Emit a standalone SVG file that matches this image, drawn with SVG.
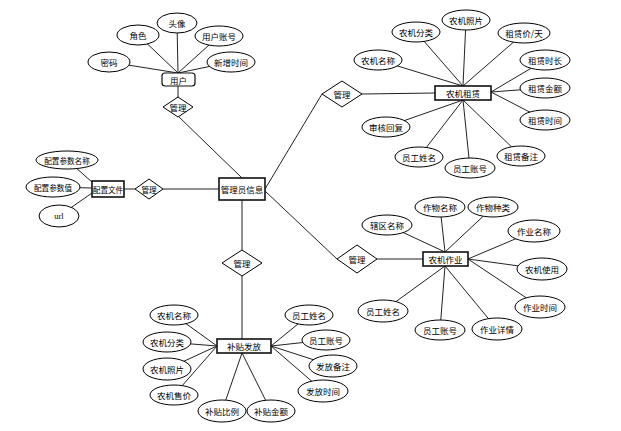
<svg xmlns="http://www.w3.org/2000/svg" width="621" height="431" viewBox="0 0 621 431">
<style>
text{font-family:"Noto Sans CJK SC","Liberation Sans",sans-serif;font-size:8.5px;fill:#000;text-anchor:middle;dominant-baseline:central}
.s{font-size:7.6px}
.a{fill:#fff;stroke:#000;stroke-width:1}
.b{fill:#fff;stroke:#111;stroke-width:1.6}
.d{fill:#fff;stroke:#000;stroke-width:1}
#connectors line{stroke:#222;stroke-width:1}
</style>
<rect width="621" height="431" fill="#fff"/>
<g id="connectors">
<line x1="109" y1="62" x2="178" y2="73"/>
<line x1="138" y1="35" x2="178" y2="73"/>
<line x1="177" y1="23" x2="178" y2="73"/>
<line x1="219" y1="36" x2="178" y2="73"/>
<line x1="231" y1="62" x2="178" y2="73"/>
<line x1="178" y1="86" x2="178" y2="97"/>
<line x1="178" y1="116" x2="242" y2="178"/>
<line x1="67" y1="160" x2="92" y2="182"/>
<line x1="53" y1="187" x2="92" y2="188"/>
<line x1="59" y1="216" x2="92" y2="193"/>
<line x1="124" y1="189" x2="135" y2="189"/>
<line x1="163" y1="189" x2="219" y2="189"/>
<line x1="265" y1="189" x2="322" y2="94"/>
<line x1="362" y1="94" x2="435" y2="93"/>
<line x1="416" y1="32" x2="463" y2="86"/>
<line x1="466" y1="20" x2="463" y2="86"/>
<line x1="524" y1="33" x2="463" y2="86"/>
<line x1="378" y1="60" x2="463" y2="86"/>
<line x1="545" y1="60" x2="491" y2="92"/>
<line x1="545" y1="88" x2="491" y2="92"/>
<line x1="545" y1="120" x2="491" y2="92"/>
<line x1="386" y1="127" x2="463" y2="100"/>
<line x1="419" y1="157" x2="463" y2="100"/>
<line x1="470" y1="168" x2="463" y2="100"/>
<line x1="521" y1="156" x2="463" y2="100"/>
<line x1="265" y1="191" x2="337" y2="259"/>
<line x1="377" y1="259" x2="423" y2="259"/>
<line x1="387" y1="225" x2="445" y2="252"/>
<line x1="440" y1="207" x2="445" y2="252"/>
<line x1="493" y1="207" x2="445" y2="252"/>
<line x1="534" y1="231" x2="468" y2="259"/>
<line x1="541" y1="269" x2="468" y2="259"/>
<line x1="540" y1="307" x2="468" y2="259"/>
<line x1="383" y1="311" x2="445" y2="266"/>
<line x1="440" y1="330" x2="445" y2="266"/>
<line x1="497" y1="329" x2="445" y2="266"/>
<line x1="242" y1="200" x2="242" y2="250"/>
<line x1="242" y1="276" x2="242" y2="339"/>
<line x1="174" y1="315" x2="217" y2="346"/>
<line x1="167" y1="342" x2="217" y2="346"/>
<line x1="167" y1="369" x2="217" y2="346"/>
<line x1="174" y1="395" x2="217" y2="346"/>
<line x1="222" y1="411" x2="242" y2="353"/>
<line x1="271" y1="411" x2="242" y2="353"/>
<line x1="309" y1="315" x2="271" y2="346"/>
<line x1="326" y1="340" x2="271" y2="346"/>
<line x1="333" y1="366" x2="271" y2="346"/>
<line x1="323" y1="391" x2="271" y2="346"/>
</g>

<g id="admin"><rect class="b" x="219" y="178" width="46" height="22"/><text x="242" y="189">管理员信息</text></g>

<g id="user"><rect class="b" x="162" y="73" width="33" height="13" rx="3" style="stroke-width:1.2"/><text x="178.5" y="79.5">用户</text></g>
<g id="user-pwd"><ellipse class="a" cx="109" cy="62" rx="21" ry="10"/><text x="109" y="62">密码</text></g>
<g id="user-role"><ellipse class="a" cx="138" cy="35" rx="21" ry="10"/><text x="138" y="35">角色</text></g>
<g id="user-avatar"><ellipse class="a" cx="177" cy="23" rx="20" ry="10"/><text x="177" y="23">头像</text></g>
<g id="user-account"><ellipse class="a" cx="219" cy="36" rx="24" ry="10"/><text x="219" y="36">用户账号</text></g>
<g id="user-time"><ellipse class="a" cx="231" cy="62" rx="24" ry="10"/><text x="231" y="62">新增时间</text></g>
<g id="rel-user"><polygon class="d" points="178,97 193,107 178,117 163,107"/><text x="178" y="107">管理</text></g>

<g id="config"><rect class="b" x="92" y="181" width="32" height="16"/><text class="s" x="108" y="189">配置文件</text></g>
<g id="cfg-name"><ellipse class="a" cx="67" cy="160" rx="31" ry="9"/><text class="s" x="67" y="160">配置参数名称</text></g>
<g id="cfg-value"><ellipse class="a" cx="53" cy="187" rx="27" ry="10"/><text class="s" x="53" y="187">配置参数值</text></g>
<g id="cfg-url"><ellipse class="a" cx="59" cy="216" rx="20" ry="11"/><text x="59" y="216" style="font-family:'Liberation Serif',serif">url</text></g>
<g id="rel-config"><polygon class="d" points="149,179 163,189 149,199 135,189"/><text class="s" x="149" y="189">管理</text></g>

<g id="rental"><rect class="b" x="435" y="86" width="56" height="14"/><text x="463" y="93">农机租赁</text></g>
<g id="rel-rental"><polygon class="d" points="342,81 362,94 342,107 322,94"/><text x="342" y="94">管理</text></g>
<g id="r1"><ellipse class="a" cx="416" cy="32" rx="24" ry="10"/><text x="416" y="32">农机分类</text></g>
<g id="r2"><ellipse class="a" cx="466" cy="20" rx="24" ry="10"/><text x="466" y="20">农机照片</text></g>
<g id="r3"><ellipse class="a" cx="524" cy="33" rx="26" ry="10"/><text x="524" y="33">租赁价/天</text></g>
<g id="r4"><ellipse class="a" cx="378" cy="60" rx="24" ry="10"/><text x="378" y="60">农机名称</text></g>
<g id="r5"><ellipse class="a" cx="545" cy="60" rx="25" ry="10"/><text x="545" y="60">租赁时长</text></g>
<g id="r6"><ellipse class="a" cx="545" cy="88" rx="25" ry="10"/><text x="545" y="88">租赁金额</text></g>
<g id="r7"><ellipse class="a" cx="545" cy="120" rx="25" ry="10"/><text x="545" y="120">租赁时间</text></g>
<g id="r8"><ellipse class="a" cx="386" cy="127" rx="24" ry="10"/><text x="386" y="127">审核回复</text></g>
<g id="r9"><ellipse class="a" cx="419" cy="157" rx="24" ry="10"/><text x="419" y="157">员工姓名</text></g>
<g id="r10"><ellipse class="a" cx="470" cy="168" rx="25" ry="10"/><text x="470" y="168">员工账号</text></g>
<g id="r11"><ellipse class="a" cx="521" cy="156" rx="24" ry="10"/><text x="521" y="156">租赁备注</text></g>

<g id="work"><rect class="b" x="423" y="252" width="45" height="14"/><text x="445.5" y="259">农机作业</text></g>
<g id="rel-work"><polygon class="d" points="357,245 377,259 357,273 337,259"/><text x="357" y="259">管理</text></g>
<g id="w1"><ellipse class="a" cx="387" cy="225" rx="25" ry="10"/><text x="387" y="225">辖区名称</text></g>
<g id="w2"><ellipse class="a" cx="440" cy="207" rx="25" ry="10"/><text x="440" y="207">作物名称</text></g>
<g id="w3"><ellipse class="a" cx="493" cy="207" rx="25" ry="10"/><text x="493" y="207">作物种类</text></g>
<g id="w4"><ellipse class="a" cx="534" cy="231" rx="26" ry="11"/><text x="534" y="231">作业名称</text></g>
<g id="w5"><ellipse class="a" cx="542" cy="269" rx="25" ry="11"/><text x="542" y="269">农机使用</text></g>
<g id="w6"><ellipse class="a" cx="540" cy="307" rx="25" ry="11"/><text x="540" y="307">作业时间</text></g>
<g id="w7"><ellipse class="a" cx="383" cy="311" rx="25" ry="11"/><text x="383" y="311">员工姓名</text></g>
<g id="w8"><ellipse class="a" cx="440" cy="330" rx="25" ry="10"/><text x="440" y="330">员工账号</text></g>
<g id="w9"><ellipse class="a" cx="497" cy="329" rx="25" ry="11"/><text x="497" y="329">作业详情</text></g>

<g id="subsidy"><rect class="b" x="217" y="339" width="54" height="14"/><text x="244" y="346">补贴发放</text></g>
<g id="rel-subsidy"><polygon class="d" points="242,250 262,263 242,276 222,263"/><text x="242" y="263">管理</text></g>
<g id="s1"><ellipse class="a" cx="174" cy="315" rx="24" ry="10"/><text x="174" y="315">农机名称</text></g>
<g id="s2"><ellipse class="a" cx="167" cy="342" rx="24" ry="10"/><text x="167" y="342">农机分类</text></g>
<g id="s3"><ellipse class="a" cx="167" cy="369" rx="24" ry="11"/><text x="167" y="369">农机照片</text></g>
<g id="s4"><ellipse class="a" cx="174" cy="395" rx="24" ry="10"/><text x="174" y="395">农机售价</text></g>
<g id="s5"><ellipse class="a" cx="222" cy="411" rx="24" ry="11"/><text x="222" y="411">补贴比例</text></g>
<g id="s6"><ellipse class="a" cx="271" cy="411" rx="24" ry="11"/><text x="271" y="411">补贴金额</text></g>
<g id="s7"><ellipse class="a" cx="309" cy="315" rx="24" ry="10"/><text x="309" y="315">员工姓名</text></g>
<g id="s8"><ellipse class="a" cx="326" cy="340" rx="24" ry="10"/><text x="326" y="340">员工账号</text></g>
<g id="s9"><ellipse class="a" cx="333" cy="366" rx="24" ry="11"/><text x="333" y="366">发放备注</text></g>
<g id="s10"><ellipse class="a" cx="323" cy="391" rx="25" ry="11"/><text x="323" y="391">发放时间</text></g>
</svg>
